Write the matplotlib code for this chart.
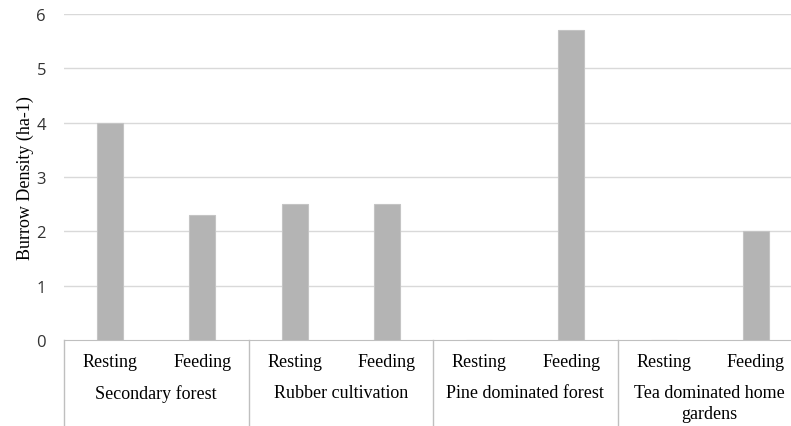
import matplotlib.pyplot as plt
from matplotlib.transforms import blended_transform_factory

# Burrow density by habitat and burrow type
habitats = ['Secondary forest', 'Rubber cultivation', 'Pine dominated forest',
            'Tea dominated home\ngardens']
burrow_types = ['Resting', 'Feeding']
resting = [4.0, 2.5, 0.0, 0.0]
feeding = [2.3, 2.5, 5.7, 2.0]
y_ticks = [0, 1, 2, 3, 4, 5, 6]

fig = plt.figure(figsize=(7.91, 4.27), dpi=100)
ax = fig.add_axes([64 / 791, 86 / 427, 738 / 791, 326 / 427])

# gridlines
for t in y_ticks[1:]:
    ax.axhline(t, color='#d9d9d9', lw=1, zorder=0)

values = []
for r, f in zip(resting, feeding):
    values += [r, f]
xs = list(range(len(values)))
ax.bar(xs, values, width=0.28, color='#b4b4b4', edgecolor='#c4c4c4', lw=0.8, zorder=2)

ax.set_xlim(-0.5, len(values) - 0.5)
ax.set_ylim(0, 6)
ax.set_yticks(y_ticks)
ax.set_yticklabels([str(t) for t in y_ticks], fontsize=12, color='#333333',
                   family='Open Sans')
ax.tick_params(axis='y', length=0, pad=13)
ax.set_xticks([])
for s in ['top', 'right', 'left']:
    ax.spines[s].set_visible(False)
ax.spines['bottom'].set_color('#bfbfbf')

ax.set_ylabel('Burrow Density (ha-1)', family='Liberation Serif', fontsize=13,
              labelpad=2)

# two-level category axis
tr = blended_transform_factory(ax.transData, ax.transAxes)
for i, x in enumerate(xs):
    ax.annotate(burrow_types[i % 2], xy=(x, 0), xycoords=tr, xytext=(0, -22),
                textcoords='offset pixels', ha='center', va='center',
                family='Liberation Serif', fontsize=13)
for g, name in enumerate(habitats):
    for k, line in enumerate(name.split('\n')):
        ax.annotate(line, xy=(2 * g + 0.5, 0), xycoords=tr, xytext=(0, -53 - 21 * k),
                    textcoords='offset pixels', ha='center', va='center',
                    family='Liberation Serif', fontsize=13)
for g in range(len(habitats) + 1):
    ax.plot([2 * g - 0.5, 2 * g - 0.5], [0, -0.3], transform=tr, color='#bfbfbf',
            lw=1, clip_on=False)

fig.savefig('out.png', dpi=100)
